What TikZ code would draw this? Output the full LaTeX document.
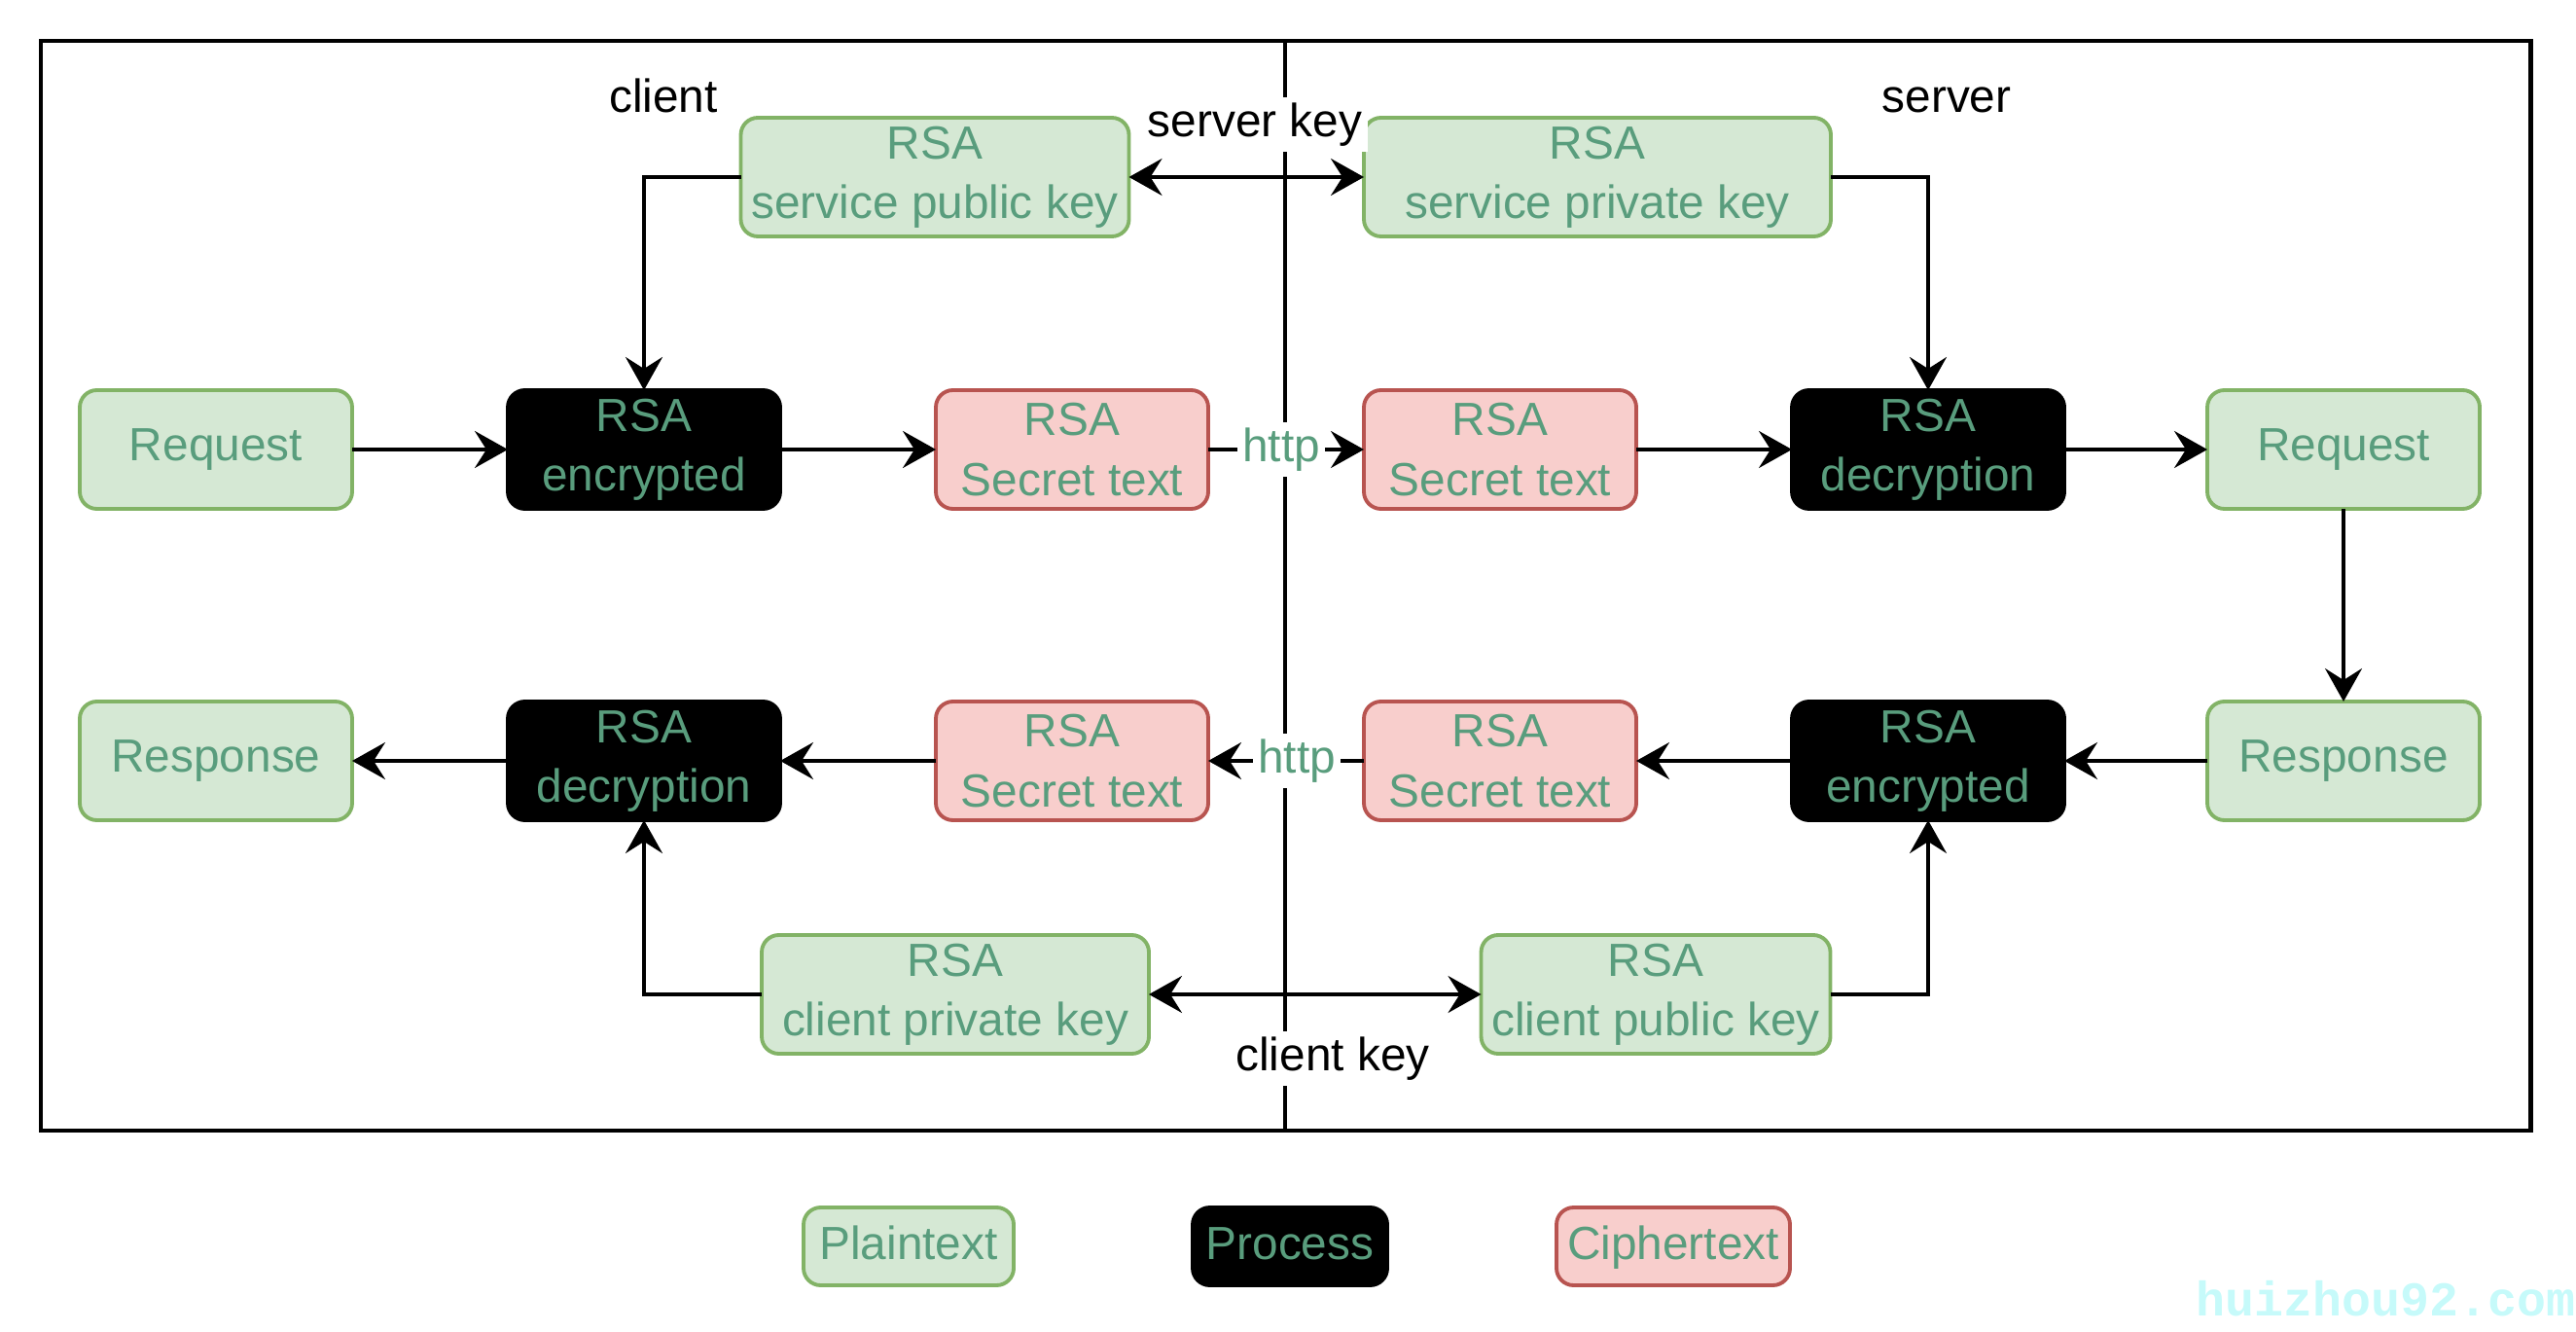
\documentclass[tikz,border=0pt]{standalone}
\usepackage{fontspec}
\setmainfont{Liberation Sans}
\newfontfamily\markfont{Liberation Mono}
\usepackage{xcolor}
\usepackage{tikz}
\usetikzlibrary{arrows.meta, positioning}
\definecolor{plainfill}{HTML}{D5E8D4}
\definecolor{plainline}{HTML}{82B366}
\definecolor{cipherfill}{HTML}{F8CECC}
\definecolor{cipherline}{HTML}{B85450}
\definecolor{txtgreen}{HTML}{599D7D}
\definecolor{markcyan}{HTML}{C6FAFA}
\newcommand{\boxfont}{\fontsize{13.6}{17.4}\selectfont}
\tikzstyle{plain} = [rectangle, rounded corners=5pt, minimum width=2.8cm,
    minimum height=1.22cm, inner sep=2pt, outer sep=0pt, align=center,
    draw=plainline, fill=plainfill, line width=1.1pt, text=txtgreen, font=\boxfont]
\tikzstyle{process} = [rectangle, rounded corners=5pt, minimum width=2.8cm,
    minimum height=1.22cm, inner sep=2pt, outer sep=0pt, align=center,
    draw=black, fill=black, line width=1.1pt, text=txtgreen, font=\boxfont]
\tikzstyle{cipher} = [rectangle, rounded corners=5pt, minimum width=2.8cm,
    minimum height=1.22cm, inner sep=2pt, outer sep=0pt, align=center,
    draw=cipherline, fill=cipherfill, line width=1.1pt, text=txtgreen, font=\boxfont]
\tikzstyle{legend} = [minimum height=0.8cm, text height=1.75ex, text depth=0.25ex]
\tikzstyle{tag} = [fill=white, inner sep=1.5pt, font=\boxfont]
\tikzstyle{arrow} = [line width=1pt,->,>={Stealth[length=3.4mm,width=3.8mm,inset=1.2mm]}]

\begin{document}
\begin{tikzpicture}[node distance=1.98cm and 1.6cm]
  \useasboundingbox (0,0) rectangle (26.48,13.68);

  % frame, split between client and server
  \draw[line width=1.4pt] (0.42,2.06) rectangle (26.01,13.26);
  \coordinate (divtop) at (13.21,13.26);
  \coordinate (divbot) at (13.21,2.06);
  \draw[line width=1pt] (divtop) -- (divbot);

  \node (client) [font=\boxfont, anchor=base] at (6.82,12.52) {client};
  \node (server) [font=\boxfont, anchor=base] at (20.01,12.52) {server};

  % request
  \node (creq)  [plain] at (2.22,9.06) {Request};
  \node (cenc)  [process, right=of creq] {RSA\\encrypted};
  \node (csec)  [cipher, right=of cenc] {RSA\\Secret text};
  \node (ssec)  [cipher, right=of csec] {RSA\\Secret text};
  \node (sdec)  [process, right=of ssec] {RSA\\decryption};
  \node (sreq)  [plain, right=1.47cm of sdec] {Request};

  % response
  \node (cresp) [plain, below=of creq] {Response};
  \node (cdec)  [process, below=of cenc] {RSA\\decryption};
  \node (csec2) [cipher, below=of csec] {RSA\\Secret text};
  \node (ssec2) [cipher, below=of ssec] {RSA\\Secret text};
  \node (senc)  [process, below=of sdec] {RSA\\encrypted};
  \node (sresp) [plain, below=of sreq] {Response};

  % keys
  \node (spub)  [plain, minimum width=3.99cm] at (9.61,11.86)
        {RSA\\service public key};
  \node (spriv) [plain, minimum width=4.8cm] at (16.42,11.86)
        {RSA\\service private key};
  \node (cpriv) [plain, minimum width=3.98cm] at (9.82,3.46)
        {RSA\\client private key};
  \node (cpub)  [plain, minimum width=3.59cm] at (17.02,3.46)
        {RSA\\client public key};

  \foreach \a/\b in {creq/cenc, cenc/csec, ssec/sdec, sdec/sreq, sreq/sresp,
                      sresp/senc, senc/ssec2, csec2/cdec, cdec/cresp}
    \draw[arrow] (\a) -- (\b);
  \draw[arrow] (csec) -- node[tag, text=txtgreen, pos=0.47]{http} (ssec);
  \draw[arrow] (ssec2) -- node[tag, text=txtgreen, pos=0.43]{http} (csec2);

  \draw[arrow, <->] (spub) -- (spriv);
  \draw[arrow, <->] (cpriv) -- (cpub);
  \draw[arrow] (spub.west) -| (cenc.north);
  \draw[arrow] (spriv.east) -| (sdec.north);
  \draw[arrow] (cpriv.west) -| (cdec.south);
  \draw[arrow] (cpub.east) -| (senc.south);

  \node (skey) [tag] at (12.90,12.40) {server key};
  \node (ckey) [tag] at (13.70,2.80) {client key};

  % legend
  \node (lplain) [plain, legend, minimum width=2.16cm] at (9.34,0.87) {Plaintext};
  \node (lproc)  [process, legend, minimum width=2.0cm] at (13.26,0.87) {Process};
  \node (lciph)  [cipher, legend, minimum width=2.4cm] at (17.20,0.87) {Ciphertext};

  \node (mark) [anchor=east, inner sep=0pt, text=markcyan,
        font=\markfont\bfseries\fontsize{14.2}{14.2}\selectfont] at (26.48,0.33)
        {huizhou92.com};

\end{tikzpicture}
\end{document}
